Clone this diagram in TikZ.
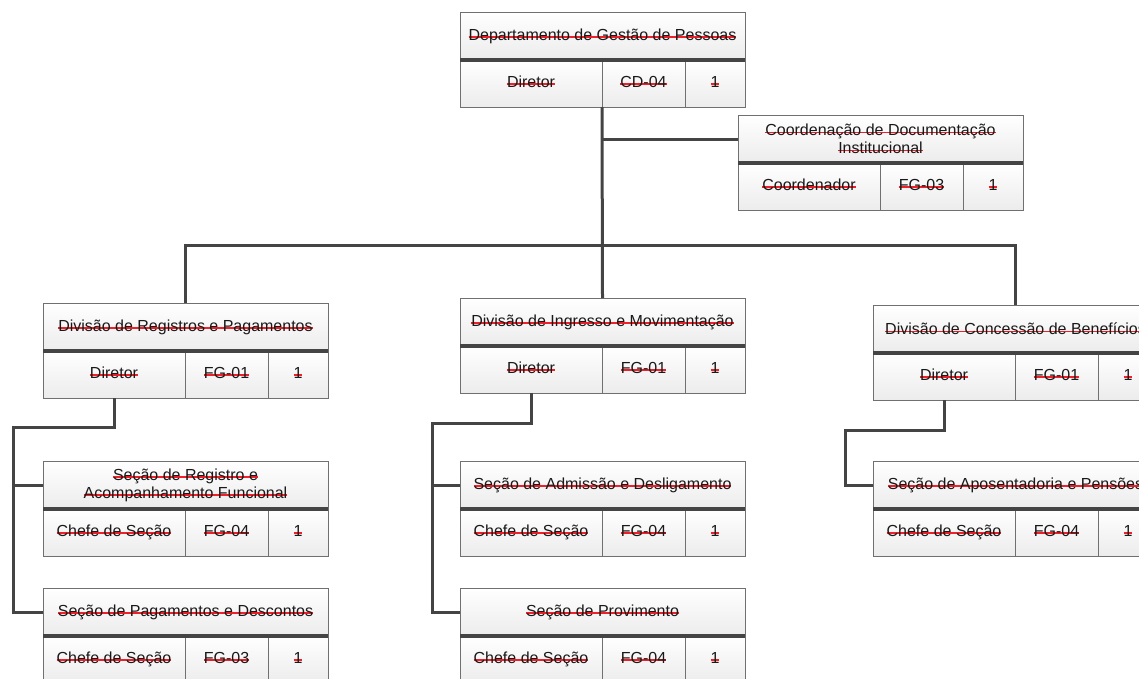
\documentclass[tikz,border=0pt]{standalone}
\usepackage{fontspec}
\setmainfont{Liberation Sans}
\usetikzlibrary{positioning}

\definecolor{risco}{HTML}{F02028}
\definecolor{linha}{HTML}{444444}
\definecolor{borda}{HTML}{707070}

% texto riscado em vermelho
\newcommand{\riscar}[1]{\setbox0\hbox{#1}\rlap{\color{risco}\rule[2.6pt]{\wd0}{1.5pt}}\box0}

% caixa: nome, canto, titulo, cargo, funcao, quantidade
\newcommand{\unidade}[6]{%
  \node[titulo] (#1) at (#2) {#3};
  \node[celula, minimum width=142pt, below right=0pt of #1.south west] (#1-a) {\riscar{#4}};
  \node[celula, minimum width=83pt, right=0pt of #1-a] (#1-b) {\riscar{#5}};
  \node[celula, minimum width=60pt, right=0pt of #1-b] (#1-c) {\riscar{#6}};
  \draw[separador] (#1.south west) -- (#1.south east);
}

\begin{document}
\begin{tikzpicture}[x=1pt, y=-1pt]
    \tikzstyle{caixa} = [rectangle, draw=borda, line width=1pt, top color=white, bottom color=gray!15, inner sep=0pt, outer sep=0pt, text=black!90, font=\fontsize{16pt}{18pt}\selectfont]
    \tikzstyle{titulo} = [caixa, minimum width=285pt, minimum height=48pt, anchor=north west, align=center]
    \tikzstyle{celula} = [caixa, minimum height=47pt, text height=11.5pt, text depth=3.5pt]
    \tikzstyle{separador} = [draw=linha, line width=4pt]
    \tikzstyle{conector} = [draw=linha, line width=3pt]

    \clip (0,0) rectangle (1139,678);

    % unidades
    \unidade{dgp}{460,12}{\riscar{Departamento de Gestão de Pessoas}}{Diretor}{CD-04}{1}
    \unidade{cdi}{738,115}{\riscar{Coordenação de Documentação}\\\riscar{Institucional}}{Coordenador}{FG-03}{1}
    \unidade{drp}{43,303}{\riscar{Divisão de Registros e Pagamentos}}{Diretor}{FG-01}{1}
    \unidade{dim}{460,298}{\riscar{Divisão de Ingresso e Movimentação}}{Diretor}{FG-01}{1}
    \unidade{dcb}{873,305}{\riscar{Divisão de Concessão de Benefícios}}{Diretor}{FG-01}{1}
    \unidade{srf}{43,461}{\riscar{Seção de Registro e}\\\riscar{Acompanhamento Funcional}}{Chefe de Seção}{FG-04}{1}
    \unidade{spd}{43,588}{\riscar{Seção de Pagamentos e Descontos}}{Chefe de Seção}{FG-03}{1}
    \unidade{sad}{460,461}{\riscar{Seção de Admissão e Desligamento}}{Chefe de Seção}{FG-04}{1}
    \unidade{spr}{460,588}{\riscar{Seção de Provimento}}{Chefe de Seção}{FG-04}{1}
    \unidade{sap}{873,461}{\riscar{Seção de Aposentadoria e Pensões}}{Chefe de Seção}{FG-04}{1}

    % ligacoes
    \coordinate (barra) at (602,245);
    \coordinate (drp-v) at (13,427);
    \coordinate (dim-v) at (432,423);
    \coordinate (dcb-v) at (845,430);

    \path[conector] (dgp-a.south east) -- (dim.north);
    \path[conector] (cdi.west) -- (cdi.west -| dgp-a.south east);
    \path[conector] (drp.north) |- (barra) -| (dcb.north);

    \path[conector] (drp-a.south) |- (drp-v) |- (spd.west);
    \path[conector] (srf.west) -- (srf.west -| drp-v);
    \path[conector] (dim-a.south) |- (dim-v) |- (spr.west);
    \path[conector] (sad.west) -- (sad.west -| dim-v);
    \path[conector] (dcb-a.south) |- (dcb-v) |- (sap.west);
\end{tikzpicture}
\end{document}
